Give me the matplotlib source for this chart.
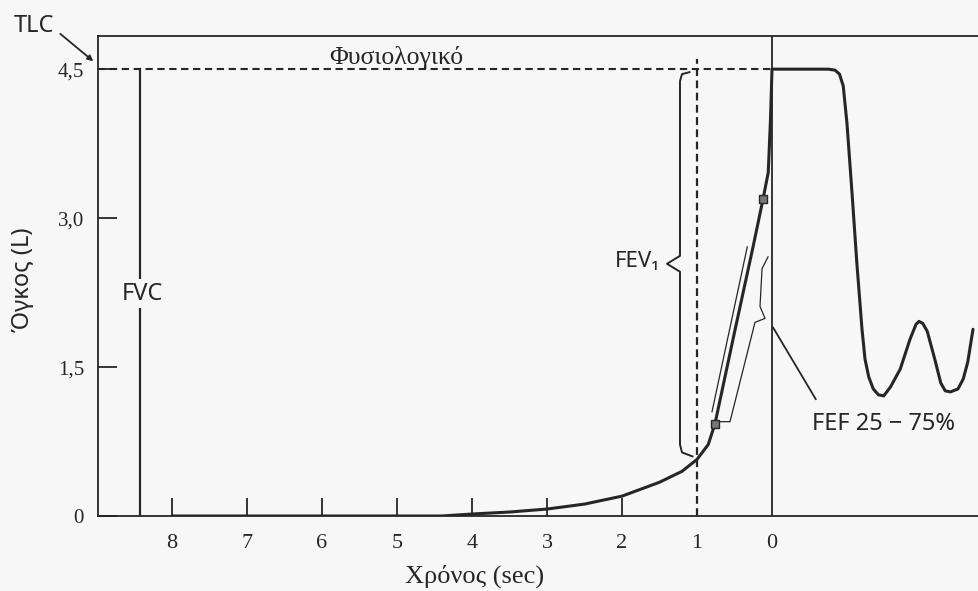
import matplotlib
matplotlib.use('Agg')
import matplotlib.pyplot as plt

# ---- data ----
time_ticks = [8, 7, 6, 5, 4, 3, 2, 1, 0]
time_labels = ['8', '7', '6', '5', '4', '3', '2', '1', '0']
small_ticks = [8, 7, 6, 5, 4, 3, 2]
volume_ticks = [0, 1.5, 3.0, 4.5]
volume_labels = ['0', '1,5', '3,0', '4,5']

# forced expiration (seconds before end, litres)
exp_time = [8.0, 6.0, 5.0, 4.4, 4.0, 3.5, 3.0, 2.5, 2.0, 1.5, 1.2, 1.0, 0.85, 0.76,
            0.5, 0.25, 0.12, 0.05, 0.02, 0.0]
exp_vol = [0.0, 0.0, 0.0, 0.0, 0.02, 0.04, 0.07, 0.12, 0.20, 0.34, 0.45, 0.57, 0.72, 0.93,
           1.85, 2.72, 3.19, 3.46, 4.0, 4.5]
# plateau and tidal breathing afterwards
insp_time = [-0.5, -0.75, -0.84, -0.9, -0.95, -1.0, -1.07, -1.13, -1.2, -1.24, -1.29, -1.35,
             -1.42, -1.49, -1.58, -1.71, -1.84, -1.92, -1.96, -2.01, -2.07, -2.17, -2.25,
             -2.31, -2.38, -2.48, -2.55, -2.61, -2.68]
insp_vol = [4.5, 4.5, 4.49, 4.45, 4.33, 3.95, 3.22, 2.56, 1.88, 1.58, 1.40, 1.28,
            1.22, 1.21, 1.30, 1.48, 1.78, 1.93, 1.96, 1.94, 1.86, 1.58, 1.34,
            1.26, 1.25, 1.28, 1.38, 1.55, 1.88]

tlc = 4.5
fvc_time = 8.43
fev_time = 1.0
fef_time = [0.76, 0.12]
fef_vol = [0.93, 3.19]

# annotation shapes (data coords)
fev_brace_t = [1.10, 1.20, 1.227, 1.227, 1.40, 1.227, 1.227, 1.20, 1.06]
fev_brace_v = [4.47, 4.45, 4.38, 2.62, 2.54, 2.46, 0.72, 0.64, 0.60]
slope_left_t = [0.80, 0.33]
slope_left_v = [1.05, 2.71]
fef_brace_t = [0.76, 0.56, 0.227, 0.093, 0.16, 0.133, 0.053]
fef_brace_v = [0.95, 0.95, 1.95, 1.99, 2.11, 2.49, 2.61]

ink = '#262626'
bg = '#f7f7f7'
serif = ['Liberation Serif', 'DejaVu Serif']
sans = ['Noto Sans', 'DejaVu Sans']

fig = plt.figure(figsize=(9.79, 5.91), dpi=100, facecolor=bg)
ax = fig.add_axes([98 / 979, 1 - 516 / 591, 1 - 98 / 979, (516 - 36) / 591])
ax.set_facecolor(bg)
ax.set_xlim(8.987, -2.76)
ax.set_ylim(0, (516 - 36) / 99.3)

for s in ['left', 'top', 'bottom']:
    ax.spines[s].set_color(ink)
    ax.spines[s].set_linewidth(1.3)
ax.spines['right'].set_visible(False)

ax.xaxis.remove_overlapping_locs = False
ax.set_xticks(time_ticks)
ax.set_xticklabels(time_labels, fontfamily=serif, fontsize=16, color=ink)
ax.set_xticks(small_ticks, minor=True)
ax.tick_params(axis='x', which='major', length=0, pad=13)
ax.tick_params(axis='x', which='minor', direction='in', length=13, width=1.3, color=ink)
ax.set_yticks(volume_ticks)
ax.set_yticklabels(volume_labels, fontfamily=serif, fontsize=15, color=ink)
ax.tick_params(axis='y', direction='in', length=14, width=1.3, color=ink, pad=10)

# reference lines
ax.axvline(0, color=ink, lw=1.3)
ax.plot([ax.get_xlim()[0], 0], [tlc, tlc], color=ink, lw=1.5, ls=(0, (3.5, 2.2)))
ax.plot([fev_time, fev_time], [0, tlc + 0.1], color=ink, lw=1.6, ls=(0, (3.5, 2.0)))
ax.plot([fvc_time, fvc_time], [0, tlc], color=ink, lw=1.6)

# curve
ax.plot(exp_time + insp_time, exp_vol + insp_vol, color=ink, lw=2.2,
        solid_joinstyle='round', solid_capstyle='round', zorder=4)

# FEV1 brace
ax.plot(fev_brace_t, fev_brace_v, color=ink, lw=1.4, solid_joinstyle='round')
# FEF 25-75 lines
ax.plot(slope_left_t, slope_left_v, color=ink, lw=0.9)
ax.plot(fef_brace_t, fef_brace_v, color=ink, lw=0.9, solid_joinstyle='round')
ax.plot(fef_time, fef_vol, ls='none', marker='s', ms=6, mfc='#777777', mec=ink, mew=1, zorder=5)

# texts
ax.text(8.40, 2.24, 'FVC', fontfamily=sans, fontsize=17, color=ink, ha='center', va='center',
        bbox=dict(boxstyle='square,pad=0.12', fc=bg, ec='none'), zorder=3)
ax.text(1.50, 2.56, 'FEV₁', fontfamily=sans, fontsize=16, color=ink, ha='right', va='center')
ax.text(5.01, 4.62, 'Φυσιολογικό', fontfamily=serif, fontsize=18.5, color=ink, ha='center', va='center')
ax.annotate('FEF 25 − 75%', xy=(-0.013, 1.90), xytext=(-0.53, 0.93), fontfamily=sans,
            fontsize=17, color=ink, ha='left', va='center',
            arrowprops=dict(arrowstyle='-', color=ink, lw=1.3, shrinkA=8, shrinkB=0,
                            relpos=(0.08, 1.0)))
ax.annotate('TLC', xy=(9.05, 4.58), xytext=(9.84, 4.93), fontfamily=sans, fontsize=17,
            color=ink, ha='center', va='center', annotation_clip=False,
            arrowprops=dict(arrowstyle='-|>', color=ink, lw=1.3, shrinkA=3, shrinkB=0,
                            mutation_scale=8, relpos=(1.0, 0.4)))

fig.text(475 / 979, 1 - 576 / 591, 'Χρόνος (sec)', fontfamily=serif, fontsize=19,
         color=ink, ha='center', va='center')
fig.text(23 / 979, 1 - 280 / 591, 'Όγκος (L)', fontfamily=sans, fontsize=17, color=ink,
         ha='center', va='center', rotation=90)

fig.savefig('out.png', dpi=100, facecolor=bg)
